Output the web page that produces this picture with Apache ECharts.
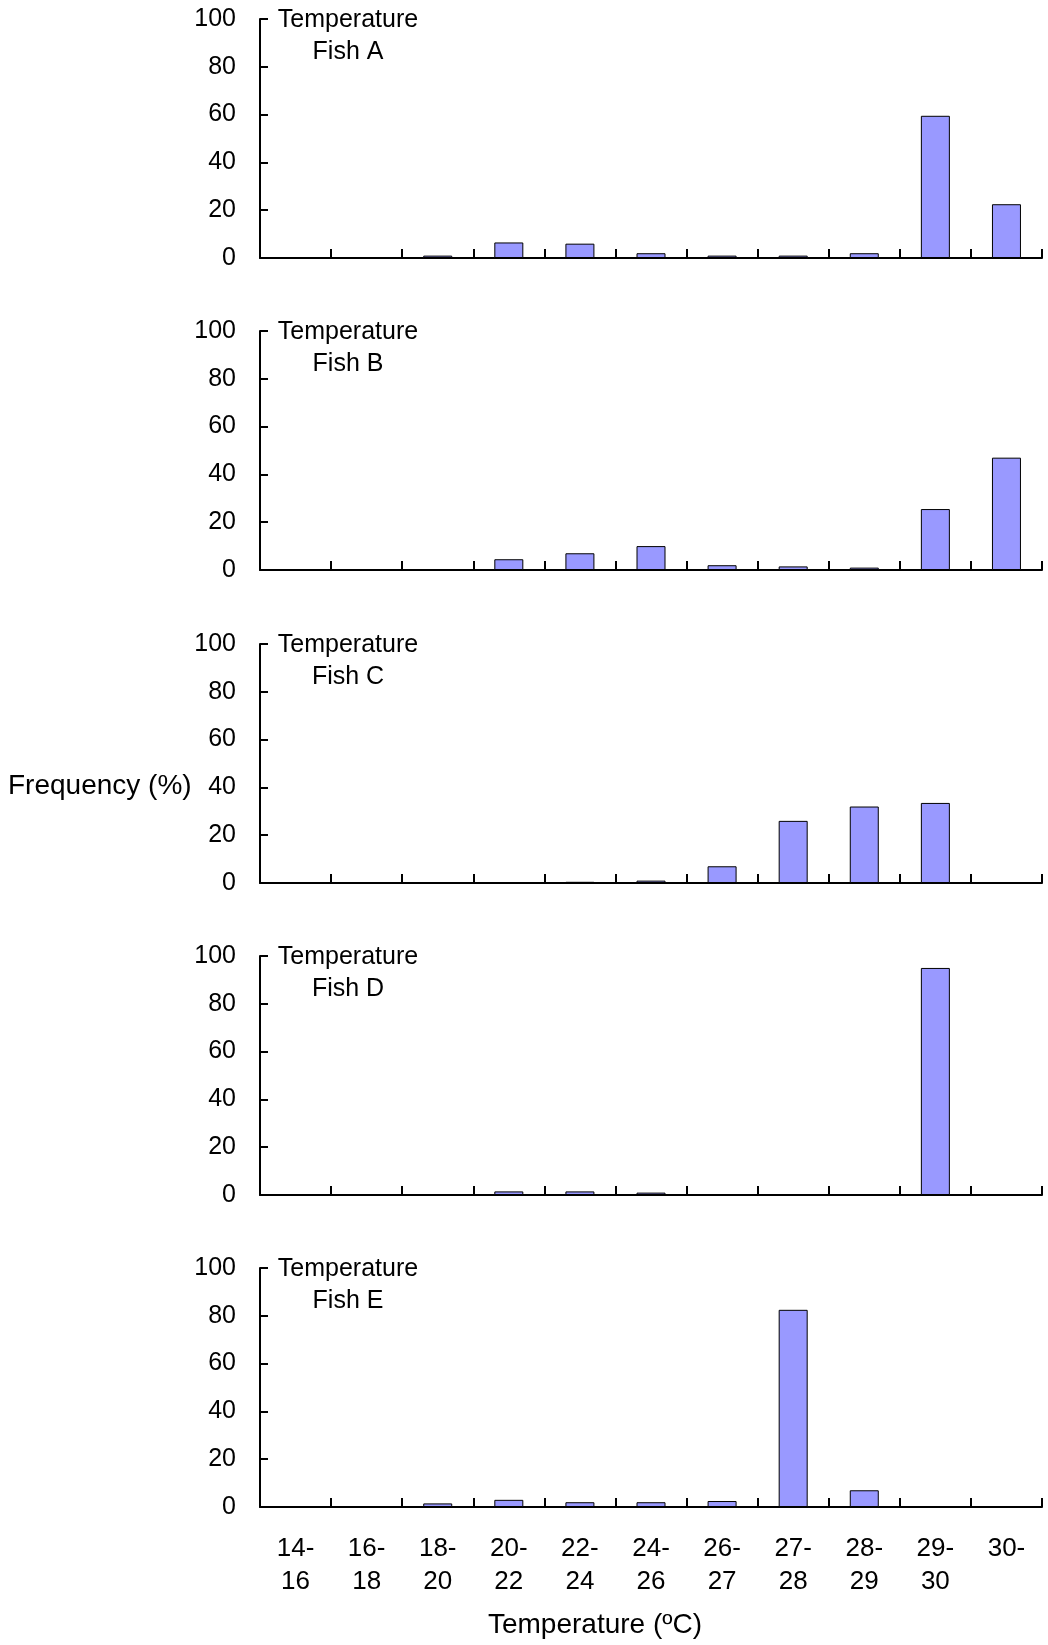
<!DOCTYPE html>
<html>
<head>
<meta charset="utf-8">
<script src="https://cdn.jsdelivr.net/npm/echarts@6/dist/echarts.min.js"></script>
<style>
html,body{margin:0;padding:0;background:#fff;}
#chart{width:1048px;height:1645px;}
</style>
</head>
<body>
<div id="chart"></div>
<script>
// ---- data ----
var categories = ['14-16','16-18','18-20','20-22','22-24','24-26','26-27','27-28','28-29','29-30','30-'];
var fishNames = ['Fish A','Fish B','Fish C','Fish D','Fish E'];
var fishA = [0, 0, 1, 6.5, 6, 2, 1, 1, 2, 59.5, 22.5];
var fishB = [0, 0, 0, 4.5, 7, 10, 2, 1.5, 1, 25.5, 47];
var fishC = [0, 0, 0, 0, 0.5, 1, 7, 26, 32, 33.5, 0];
var fishD = [0, 0, 0, 1.5, 1.5, 1, 0, 0, 0.4, 95, 0];
var fishE = [0, 0, 1.5, 3, 2, 2, 2.5, 82.5, 7, 0, 0];
var yTicks = [0, 20, 40, 60, 80, 100];
var panelTitle = 'Temperature';
var yAxisTitle = 'Frequency (%)';
var xAxisTitle = 'Temperature (ºC)';

var allSeries = [fishA, fishB, fishC, fishD, fishE];

// ---- layout ----
var FONT = '"Liberation Sans", Arial, sans-serif';
var tops = [19, 331, 644, 956, 1268];
var gridH = 239;
var gridLeft = 260, gridRight = 6;

var grids = [], xAxes = [], yAxes = [], series = [], graphics = [];
tops.forEach(function (t, i) {
  grids.push({left: gridLeft, right: gridRight, top: t, height: gridH, containLabel: false});
  var last = (i === tops.length - 1);
  xAxes.push({
    type: 'category', gridIndex: i, data: categories, boundaryGap: true,
    axisLine: {show: true, lineStyle: {color: '#000', width: 2}},
    axisTick: {show: true, inside: true, length: 9, alignWithLabel: false, lineStyle: {color: '#000', width: 2}},
    axisLabel: {
      show: last, interval: 0, margin: 25, color: '#000', fontFamily: FONT, fontSize: 26, lineHeight: 33,
      formatter: function (v) { return v.replace('-', '-\n'); }
    },
    splitLine: {show: false}
  });
  yAxes.push({
    type: 'value', gridIndex: i, min: yTicks[0], max: yTicks[yTicks.length - 1], interval: 20,
    axisLine: {show: true, lineStyle: {color: '#000', width: 2}},
    axisTick: {show: true, inside: true, length: 8, lineStyle: {color: '#000', width: 2}},
    axisLabel: {margin: 24, color: '#000', fontFamily: FONT, fontSize: 25},
    splitLine: {show: false}
  });
  series.push({
    type: 'bar', xAxisIndex: i, yAxisIndex: i, data: allSeries[i], barWidth: 29,
    itemStyle: {color: '#9999FF', borderColor: '#000', borderWidth: 1},
    animation: false
  });
  graphics.push({
    type: 'text', x: 348, y: t + 1,
    style: {text: panelTitle, fill: '#000', font: '25px ' + FONT, textAlign: 'center', textVerticalAlign: 'middle'}
  });
  graphics.push({
    type: 'text', x: 348, y: t + 33,
    style: {text: fishNames[i], fill: '#000', font: '25px ' + FONT, textAlign: 'center', textVerticalAlign: 'middle'}
  });
});
graphics.push({
  type: 'text', x: 8, y: 786,
  style: {text: yAxisTitle, fill: '#000', font: '28px ' + FONT, textAlign: 'left', textVerticalAlign: 'middle'}
});
graphics.push({
  type: 'text', x: 595, y: 1625,
  style: {text: xAxisTitle, fill: '#000', font: '28px ' + FONT, textAlign: 'center', textVerticalAlign: 'middle'}
});

var chart = echarts.init(document.getElementById('chart'), null, {renderer: 'canvas'});
chart.setOption({
  animation: false,
  backgroundColor: '#fff',
  grid: grids,
  xAxis: xAxes,
  yAxis: yAxes,
  series: series,
  graphic: graphics
});
</script>
</body>
</html>
